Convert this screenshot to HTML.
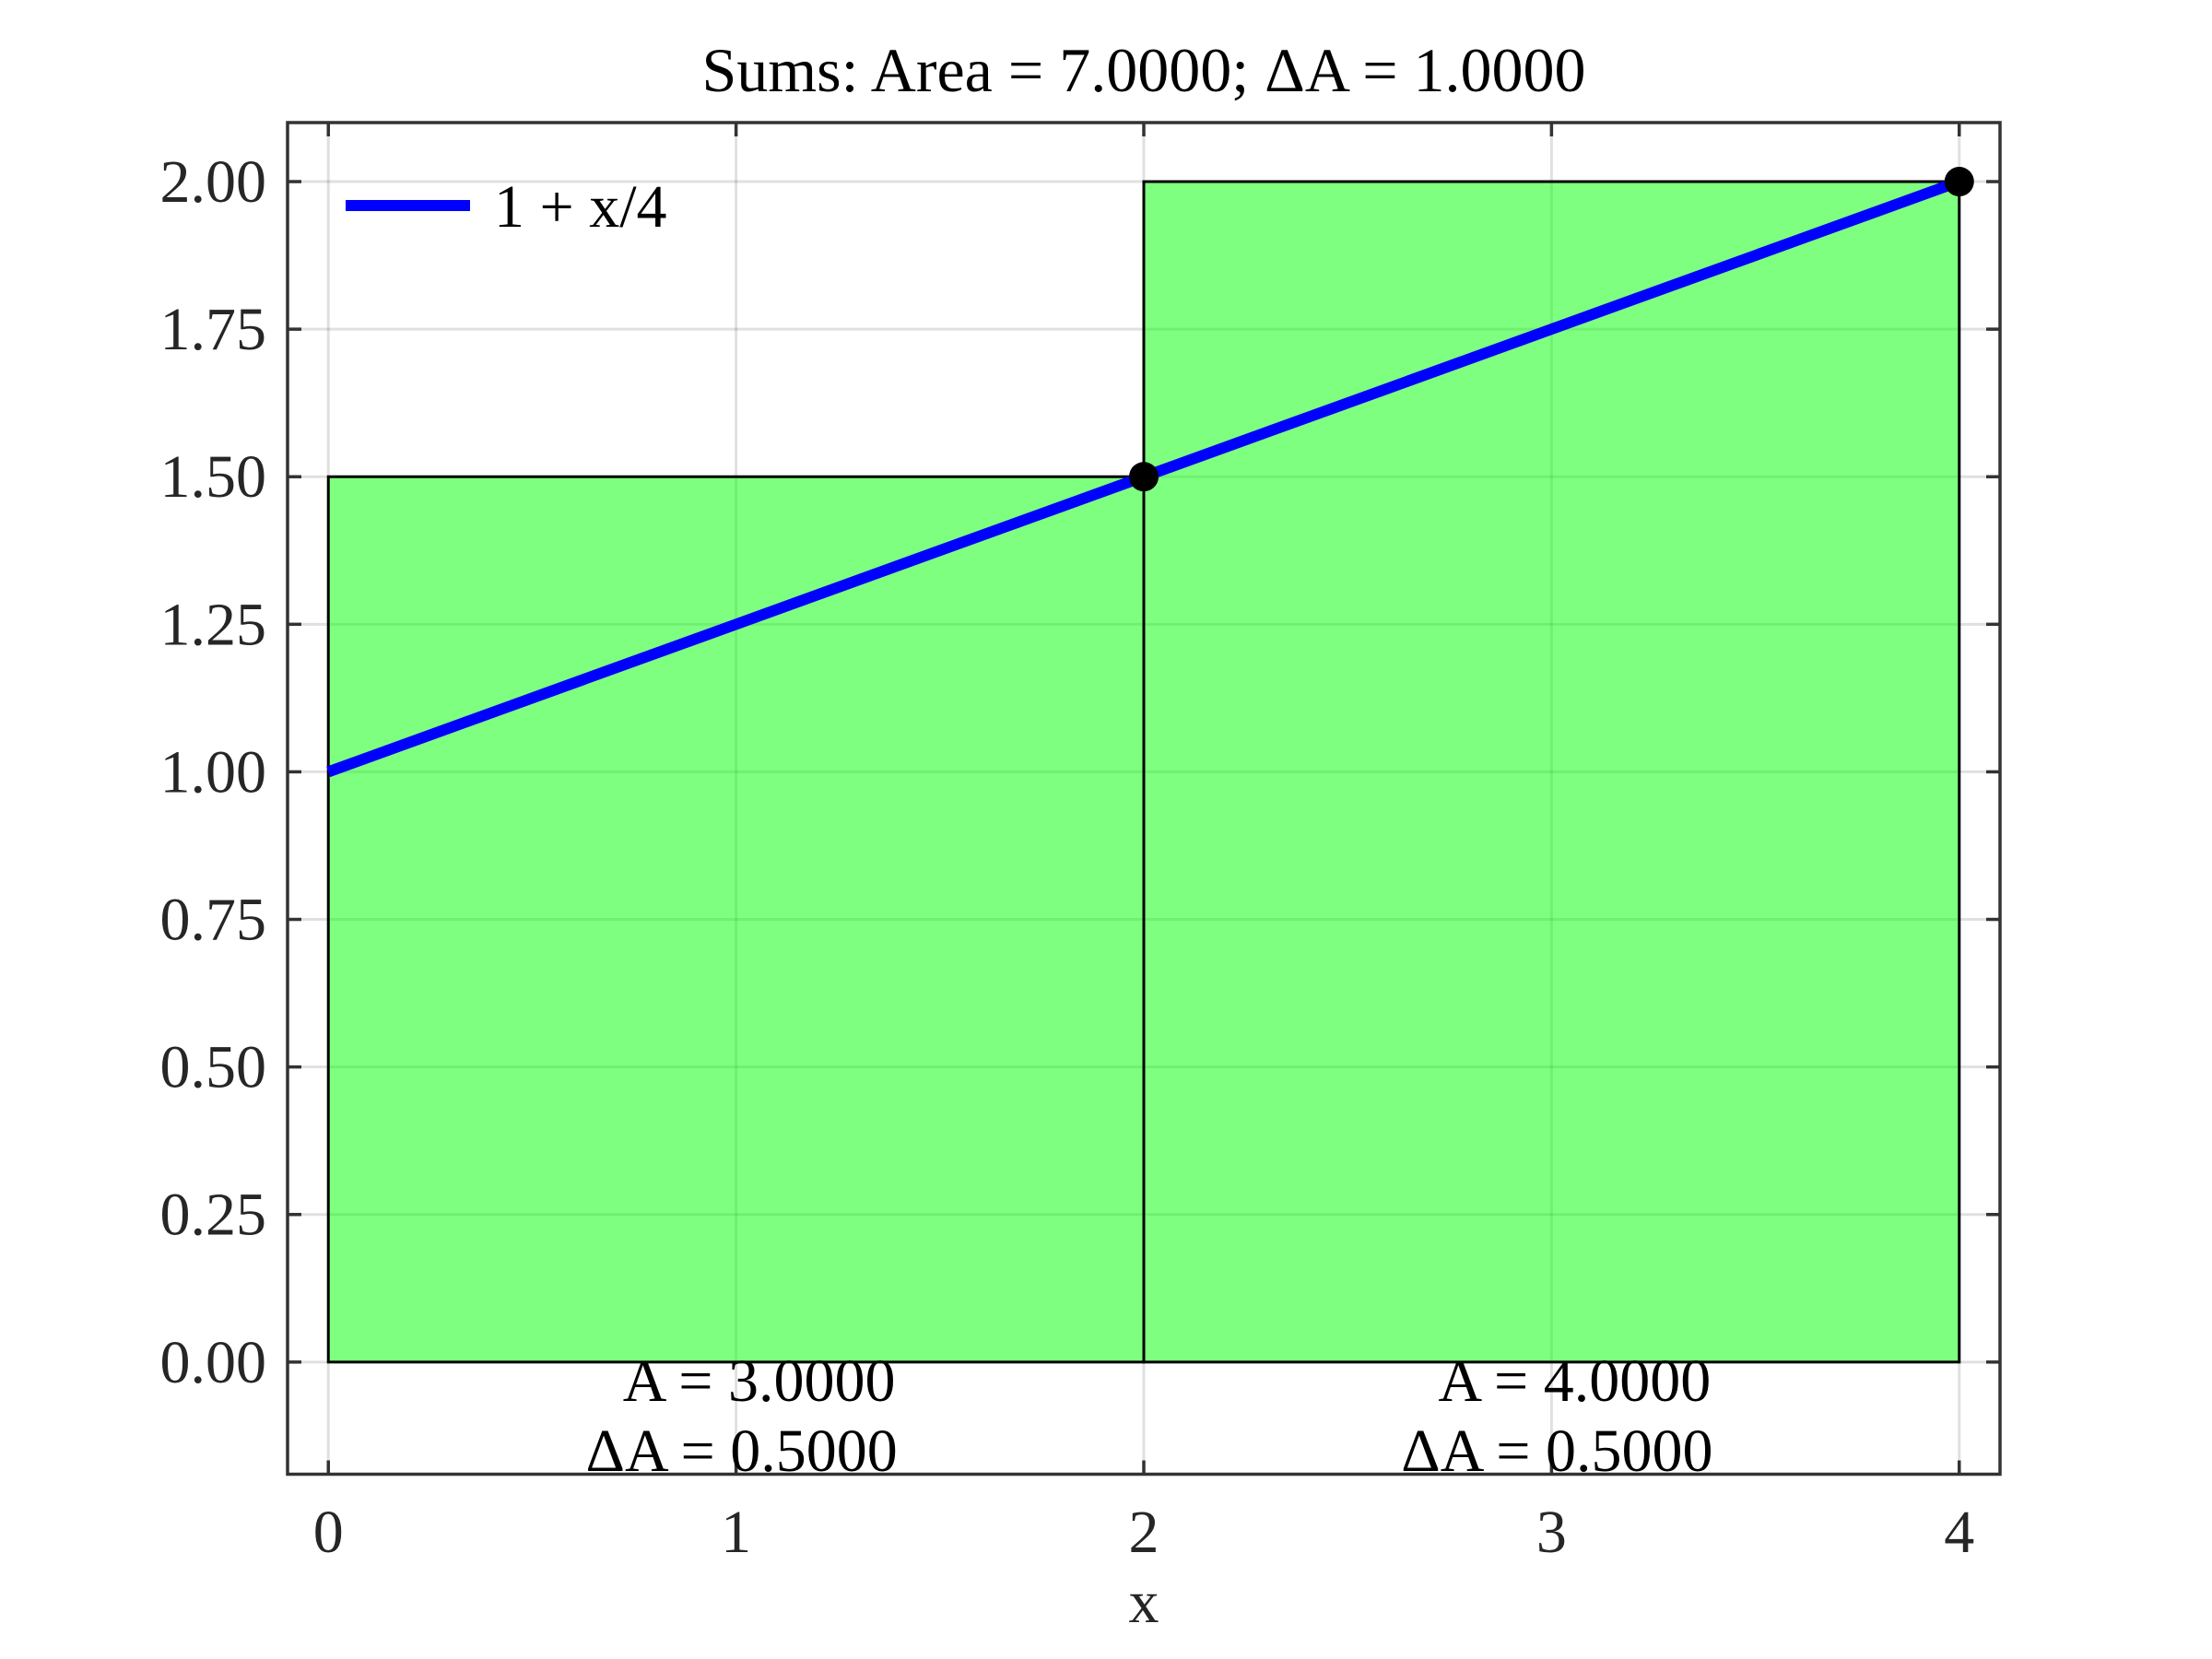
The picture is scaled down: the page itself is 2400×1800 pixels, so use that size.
<!DOCTYPE html>
<html><head><meta charset="utf-8"><style>
html,body{margin:0;padding:0;background:#fff}
svg{display:block;font-family:"Liberation Serif","DejaVu Serif",serif}
</style></head><body>
<svg id="chart" width="2400" height="1800" viewBox="0 0 2400 1800" xmlns="http://www.w3.org/2000/svg">
<rect width="2400" height="1800" fill="#fff"/>
<g id="grid"></g><g id="bars"></g><g id="curve"></g><g id="frame"></g><g id="labels"></g>
</svg>
<script>
const xTicks = [0, 1, 2, 3, 4];
const yTicks = [0, 0.25, 0.5, 0.75, 1.0, 1.25, 1.5, 1.75, 2.0];
const rectLeft = [0, 2];
const rectWidth = [2, 2];
const rectHeight = [1.5, 2.0];
const rectArea = ["A = 3.0000", "A = 4.0000"];
const rectErr = ["ΔA = 0.5000", "ΔA = 0.5000"];
const curveX = [0, 1, 2, 3, 4];
const curveY = [1, 1.25, 1.5, 1.75, 2];
const pointX = [2, 4];
const pointY = [1.5, 2];
const titleText = "Sums: Area = 7.0000; ΔA = 1.0000";

const L=312,R=2170,T=133,B=1599.5;
const X0=-0.1,X1=4.1,Y0=-0.19,Y1=2.1;
const sx=v=>L+(v-X0)/(X1-X0)*(R-L);
const sy=v=>B-(v-Y0)/(Y1-Y0)*(B-T);
const NS="http://www.w3.org/2000/svg";
function mk(parent,tag,attrs,text){const e=document.createElementNS(NS,tag);for(const k in attrs)e.setAttribute(k,attrs[k]);if(text!==undefined)e.textContent=text;parent.appendChild(e);return e;}
const grid=document.getElementById('grid'),bars=document.getElementById('bars'),curve=document.getElementById('curve'),frame=document.getElementById('frame'),labels=document.getElementById('labels');

xTicks.forEach(t=>{
 const g=mk(grid,'line',{x1:sx(t),x2:sx(t),y1:T,y2:B,stroke:'#000','stroke-opacity':0.12,'stroke-width':3});
 
 
});
yTicks.forEach(t=>{
 const g=mk(grid,'line',{x1:L,x2:R,y1:sy(t),y2:sy(t),stroke:'#000','stroke-opacity':0.12,'stroke-width':3});
 
 
});

rectLeft.forEach((x,i)=>{
 const r=mk(bars,'rect',{x:sx(x),y:sy(rectHeight[i]),width:sx(x+rectWidth[i])-sx(x),height:sy(0)-sy(rectHeight[i]),fill:'#00ff00','fill-opacity':0.5,stroke:'#000','stroke-width':3});
 
 
 const cx=sx(x+rectWidth[i]/2);
 const a=mk(labels,'text',{x:cx+25,y:1520,'font-size':66,'text-anchor':'middle',fill:'#000'},rectArea[i]);
 
 
 const d=mk(labels,'text',{x:cx+6,y:1596,'font-size':66,'text-anchor':'middle',fill:'#000'},rectErr[i]);
 
 
});

const pl=mk(curve,'polyline',{points:curveX.map((x,i)=>sx(x)+','+sy(curveY[i])).join(' '),fill:'none',stroke:'#0000ff','stroke-width':12});


pointX.forEach((x,i)=>{
 const c=mk(curve,'circle',{cx:sx(x),cy:sy(pointY[i]),r:16,fill:'#000'});
 
 
});

const fr=mk(frame,'rect',{x:L,y:T,width:R-L,height:B-T,fill:'none',stroke:'#333','stroke-width':3.5});


xTicks.forEach(t=>{
 mk(frame,'line',{x1:sx(t),x2:sx(t),y1:B,y2:B-15,stroke:'#333','stroke-width':3.5});
 mk(frame,'line',{x1:sx(t),x2:sx(t),y1:T,y2:T+15,stroke:'#333','stroke-width':3.5});
 const l=mk(labels,'text',{x:sx(t),y:1684,'font-size':66,'text-anchor':'middle',fill:'#262626'},String(t));
 
 
});
yTicks.forEach(t=>{
 mk(frame,'line',{x1:L,x2:L+15,y1:sy(t),y2:sy(t),stroke:'#333','stroke-width':3.5});
 mk(frame,'line',{x1:R,x2:R-15,y1:sy(t),y2:sy(t),stroke:'#333','stroke-width':3.5});
 const l=mk(labels,'text',{x:289,y:sy(t)+22,'font-size':66,'text-anchor':'end',fill:'#262626'},t.toFixed(2));
 
 
});

const title=mk(labels,'text',{x:(L+R)/2,y:99,'font-size':68,'text-anchor':'middle',fill:'#000'},titleText);


const xl=mk(labels,'text',{x:(L+R)/2,y:1760,'font-size':66,'text-anchor':'middle',fill:'#262626'},'x');



const lg=mk(labels,'line',{x1:375,x2:510,y1:223,y2:223,stroke:'#0000ff','stroke-width':12});


const lt=mk(labels,'text',{x:536,y:246,'font-size':66,fill:'#000'},'1 + x/4');


</script>
</body></html>
